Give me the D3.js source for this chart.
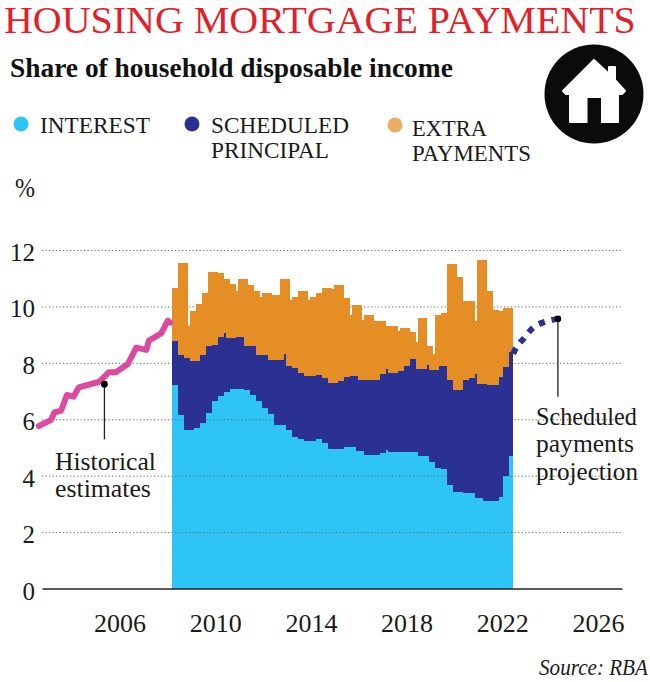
<!DOCTYPE html>
<html><head><meta charset="utf-8">
<script src="https://cdnjs.cloudflare.com/ajax/libs/d3/7.8.5/d3.min.js"></script>
<style>html,body{margin:0;padding:0;background:#fff}svg{display:block}text{font-family:"Liberation Serif",serif;fill:#1a1a1a}</style>
</head><body><svg id="c" width="650" height="682"></svg>
<script>
// Data: months since April 2008 at which each stacked level changes, and the level (% of income)
const startYear = 2008.25, endMonth = 171;
const interestMonths = [0,3,6,11,14,17,20,23,26,29,36,39,42,45,48,51,57,60,63,66,72,75,78,86,88,92,96,104,107,108,116,123,129,132,135,138,141,146,152,156,164,166,169];
const interestLevel = [7.22,6.16,5.62,5.70,5.86,6.21,6.63,6.84,6.96,7.09,7.02,6.85,6.63,6.39,6.19,5.80,5.61,5.38,5.29,5.23,5.29,5.17,4.95,5.00,5.03,4.88,4.73,4.82,4.90,4.83,4.85,4.70,4.47,4.28,4.23,3.66,3.41,3.37,3.20,3.11,3.24,3.99,4.70];
const scheduledMonths = [0,3,6,9,14,17,20,23,26,27,32,36,42,48,56,57,60,63,66,72,75,78,83,86,89,93,99,104,107,108,113,116,119,122,128,129,134,138,141,146,149,152,153,158,164,166,169];
const scheduledLevel = [8.78,8.27,8.16,8.08,8.27,8.60,8.64,8.93,9.05,8.87,8.90,8.60,8.29,8.09,8.30,7.89,7.83,7.63,7.54,7.56,7.45,7.30,7.35,7.51,7.54,7.38,7.39,7.61,7.77,7.65,7.72,7.90,8.13,7.78,7.93,7.75,7.90,7.39,7.05,7.39,7.45,7.61,7.26,7.23,7.49,7.87,8.40];
const extraMonths = [0,3,8,9,12,15,18,23,26,29,32,33,38,41,44,45,50,54,59,60,63,68,69,72,75,80,81,86,89,90,95,96,101,107,113,114,119,122,123,128,131,132,135,138,143,146,152,153,158,161,164,166];
const extraLevel = [10.64,11.53,9.31,9.85,10.08,10.47,11.23,11.18,10.96,10.80,10.53,10.98,10.76,10.53,10.35,10.47,10.41,10.98,10.23,10.33,10.55,10.23,10.32,10.47,10.64,10.61,10.76,10.31,9.70,10.05,9.52,9.70,9.50,9.31,9.13,9.25,9.11,8.75,9.60,8.61,8.30,9.71,9.77,11.52,11.03,10.18,9.50,11.64,10.53,9.88,9.84,9.94];
const historyYears = [2002.67,2003.18,2003.32,2003.6,2003.84,2004.12,2004.34,2005.2,2005.6,2005.9,2006.39,2006.74,2007.16,2007.27,2007.79,2008.06,2008.16];
const historyValues = [5.76,5.98,6.24,6.31,6.86,6.80,7.13,7.33,7.67,7.67,7.96,8.54,8.46,8.79,9.05,9.50,9.43];
const projectionYears = [2022.5,2022.6,2022.95,2023.31,2023.82,2024.37];
const projectionValues = [8.32,8.50,8.87,9.23,9.45,9.56];
const historyCallout = [2005.41,7.24];
const projectionCallout = [2024.37,9.56];
const xTicks = [2006,2010,2014,2018,2022,2026];
const yTicks = [0,2,4,6,8,10,12];
const legendLabels = [["INTEREST"],["SCHEDULED","PRINCIPAL"],["EXTRA","PAYMENTS"]];
const colors = {interest:"#2FC4F6",scheduled:"#2B3192",extra:"#E68E26",extraKey:"#EBAD62",history:"#DC4AA0",title:"#E21F2A"};

const svg = d3.select("#c");
const x = d3.scaleLinear().domain([2002.8,2027.05]).range([42,622]);
const y = d3.scaleLinear().domain([0,12]).range([588.5,250]);
const monthX = m => x(startYear + m/12);

// Place a real text so it spans the given width
function fit(str,px,py,width,size,extra){
  const t = svg.append("text").style("font-size",size+"px").text(str);
  if(extra) extra(t);
  const len = t.node().getComputedTextLength();
  t.attr("transform",`translate(${px},${py}) scale(${width/len},1)`);
  return t;
}

// Title block
fit("HOUSING MORTGAGE PAYMENTS",4,33,632,37,t=>t.style("fill",colors.title));
fit("Share of household disposable income",10,77,443,28,t=>t.style("font-weight","bold").style("fill","#111"));

// House icon
const icon = svg.append("g");
icon.append("circle").attr("cx",594).attr("cy",94).attr("r",49.5).attr("fill","#0b0b0b");
icon.append("path").attr("fill","#fff").attr("stroke","#fff").attr("stroke-width",2).attr("stroke-linejoin","round")
  .attr("d","M594 60L609 74V67H615V80L625 91L622 94H618V122H570V94H566L563 91Z");
icon.append("rect").attr("x",587.5).attr("y",98).attr("width",13.5).attr("height",26).attr("fill","#0b0b0b");

// Legend
const legendPos = [{cx:21,cy:124,tx:40,ty:[132.7],w:[110]},{cx:192,cy:124,tx:211,ty:[132.7,157.7],w:[138,118]},{cx:395,cy:125,tx:412,ty:[135.7,161],w:[75,119]}];
const legendCols = [colors.interest,colors.scheduled,colors.extraKey];
legendLabels.forEach((lines,i)=>{
  const p = legendPos[i];
  svg.append("circle").attr("cx",p.cx).attr("cy",p.cy).attr("r",7.5).attr("fill",legendCols[i]);
  lines.forEach((t,j)=>fit(t,p.tx,p.ty[j],p.w[j],24));
});
fit("%",15,197,20,27);

// Grid
const gridAxis = () => d3.axisLeft(y).tickValues(yTicks.filter(d=>d>0)).tickSize(-580).tickFormat("");
function styleGrid(g){
  g.select(".domain").remove();
  g.selectAll("line").attr("stroke","#666").attr("stroke-width",1).attr("stroke-dasharray","1.2 2.3");
}
svg.append("g").attr("transform","translate(42,0)").call(gridAxis()).call(styleGrid);

// Stepped stacked bands
const steps = (months,levels) => months.map((m,i)=>[m,levels[i]]).concat([[endMonth,levels[levels.length-1]]]);
const area = d3.area().curve(d3.curveStepAfter).x(d=>monthX(d[0])).y0(y(0)).y1(d=>y(d[1]));
[[extraMonths,extraLevel,colors.extra],[scheduledMonths,scheduledLevel,colors.scheduled],[interestMonths,interestLevel,colors.interest]].forEach(s=>
  svg.append("path").attr("d",area(steps(s[0],s[1]))).attr("fill",s[2]).attr("shape-rendering","crispEdges"));
// Dotted grid shows through the interest band only
svg.append("clipPath").attr("id","ci").append("path").attr("d",area(steps(interestMonths,interestLevel)));
svg.append("g").attr("clip-path","url(#ci)").append("g").attr("transform","translate(42,0)").call(gridAxis()).call(styleGrid);

// Lines
const line = d3.line().x(d=>x(d[0])).y(d=>y(d[1]));
svg.append("path").attr("d",line(d3.zip(historyYears,historyValues))).attr("fill","none").attr("stroke",colors.history)
  .attr("stroke-width",6).attr("stroke-linecap","round").attr("stroke-linejoin","round");
svg.append("path").attr("d",line.curve(d3.curveMonotoneX)(d3.zip(projectionYears,projectionValues))).attr("fill","none").attr("stroke",colors.scheduled)
  .attr("stroke-width",6).attr("stroke-dasharray","6.3 7");

// Axes
const xAxis = svg.append("g").attr("transform",`translate(0,${y(0)})`).call(d3.axisBottom(x).tickValues(xTicks).tickFormat(d3.format("d")).tickSize(0).tickPadding(25));
xAxis.select(".domain").attr("stroke","#222").attr("stroke-width",1.5);
xAxis.selectAll("text").attr("dx",1).style("font-size","26px").style("font-family",'"Liberation Serif",serif').style("fill","#1a1a1a");
const yAxis = svg.append("g").attr("transform","translate(35,0)").call(d3.axisLeft(y).tickValues(yTicks).tickSize(0).tickPadding(0));
yAxis.select(".domain").remove();
yAxis.selectAll("text").attr("dy","0.42em").style("font-size","25px").style("font-family",'"Liberation Serif",serif').style("fill","#1a1a1a");

// Callouts
function callout(c,len){
  const cx=x(c[0]),cy=y(c[1]);
  svg.append("line").attr("x1",cx).attr("x2",cx).attr("y1",cy).attr("y2",cy+len).attr("stroke","#222").attr("stroke-width",1.3);
  svg.append("circle").attr("cx",cx).attr("cy",cy).attr("r",3.4).attr("fill","#000");
}
callout(historyCallout,55);
callout(projectionCallout,78);
const notes=[["Historical",55,470,101],["estimates",55,497,96],["Scheduled",536,425,101],["payments",536,452,98],["projection",536,480,102]];
notes.forEach(n=>fit(n[0],n[1],n[2],n[3],26));
fit("Source: RBA",539,675,109,23,t=>t.style("font-style","italic"));
</script></body></html>
